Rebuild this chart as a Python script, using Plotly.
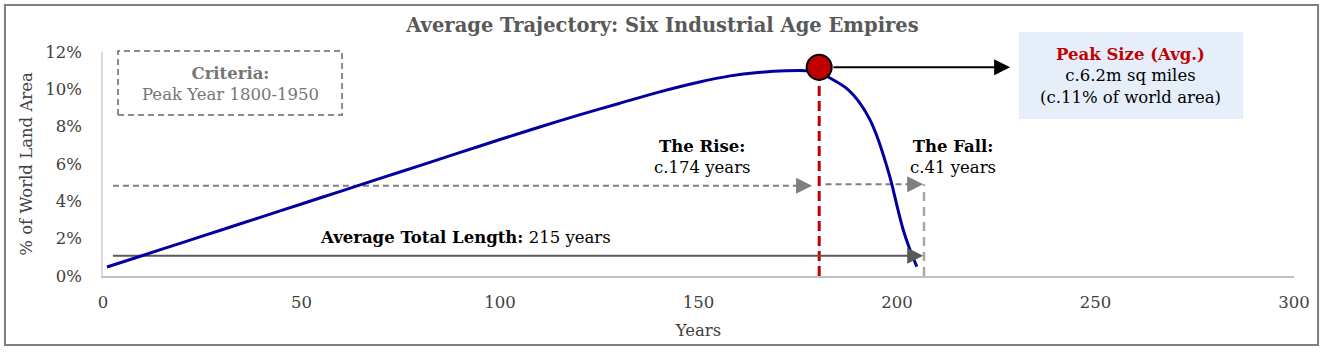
import plotly.graph_objects as go

# ---- data ----
years = [1, 10, 20, 30, 40, 50, 60, 70, 80, 90, 100, 110, 120, 130, 140, 150, 158, 165, 172, 177,
         180, 183, 187.3, 190.7, 193.2, 195.3, 197.4, 198.6, 199.9, 201.6, 203.3, 205]
share = [0.48, 1.10, 1.79, 2.48, 3.17, 3.86, 4.55, 5.24, 5.93, 6.62, 7.31, 7.98, 8.63, 9.24, 9.85, 10.38, 10.72, 10.9, 10.99, 11.0,
         10.95, 10.62, 10.05, 9.25, 8.36, 7.29, 5.9, 5.0, 3.85, 2.45, 1.39, 0.5]

peak_year = 180.4
peak_share = 11.18
rise_start, rise_end = 2.5, 178.6
fall_start, fall_end = 182, 206.6
rise_level = 4.84
fall_level = 4.92
total_start, total_end = 2.5, 206.6
total_level = 1.08
end_year = 206.8
box_arrow_end = 228.5

x_ticks = [0, 50, 100, 150, 200, 250, 300]
y_ticks = [0, 2, 4, 6, 8, 10, 12]
y_tick_text = ["0%", "2%", "4%", "6%", "8%", "10%", "12%"]

FONT = "DejaVu Serif"
RED = "#C00000"
GRAY = "#7F7F7F"
FS = 16.5
HEAD_PX = 14                 # pixel length of the solid shaft used for arrow heads
PX_PER_YEAR = 1191 / 300
head_gap = HEAD_PX / PX_PER_YEAR

fig = go.Figure()

# red dashed peak line
fig.add_trace(go.Scatter(x=[peak_year, peak_year], y=[0, peak_share], mode="lines",
                         line=dict(color=RED, width=3, dash="10px,5px"), hoverinfo="skip"))
# gray dashed end line
fig.add_trace(go.Scatter(x=[end_year, end_year], y=[0, fall_level], mode="lines",
                         line=dict(color="#A6A6A6", width=2.5, dash="9px,6px"), hoverinfo="skip"))
# rise / fall dashed arrows
fig.add_trace(go.Scatter(x=[rise_start, rise_end - head_gap], y=[rise_level, rise_level], mode="lines",
                         line=dict(color=GRAY, width=2, dash="6px,4px"), hoverinfo="skip"))
fig.add_trace(go.Scatter(x=[fall_start, fall_end - head_gap], y=[fall_level, fall_level], mode="lines",
                         line=dict(color=GRAY, width=2, dash="6px,4px"), hoverinfo="skip"))
# total length line
fig.add_trace(go.Scatter(x=[total_start, total_end - head_gap], y=[total_level, total_level], mode="lines",
                         line=dict(color="#595959", width=2), hoverinfo="skip"))

# main curve
fig.add_trace(go.Scatter(x=years, y=share, mode="lines",
                         line=dict(color="#0000A0", width=3, shape="spline", smoothing=0.8),
                         hoverinfo="skip"))
# peak marker
fig.add_trace(go.Scatter(x=[peak_year], y=[peak_share], mode="markers",
                         marker=dict(size=25, color=RED, line=dict(color="black", width=2)),
                         cliponaxis=False, hoverinfo="skip"))

annotations = []
def head(x, y, color):
    annotations.append(dict(x=x, y=y, xref="x", yref="y", ax=-HEAD_PX, ay=0, showarrow=True,
                            arrowhead=2, arrowsize=1.6, arrowwidth=2, arrowcolor=color, text=""))

head(rise_end, rise_level, GRAY)
head(fall_end, fall_level, GRAY)
head(total_end, total_level, "#595959")

# black arrow from peak to box
annotations.append(dict(x=box_arrow_end, y=peak_share, xref="x", yref="y", ax=183.6, ay=peak_share,
                        axref="x", ayref="y", showarrow=True, arrowhead=2, arrowsize=1.6,
                        arrowwidth=2, arrowcolor="black", text=""))

tf = dict(family=FONT, size=FS, color="black")
annotations += [
    dict(x=32, y=10.26, xref="x", yref="y", showarrow=False,
         text="<b>Criteria:</b><br>Peak Year 1800-1950", font=dict(family=FONT, size=FS, color="#767676")),
    dict(x=258.9, y=10.74, xref="x", yref="y", showarrow=False,
         text=f"<b><span style='color:{RED}'>Peak Size (Avg.)</span></b><br>c.6.2m sq miles<br>(c.11% of world area)",
         font=tf),
    dict(x=151.1, y=6.4, xref="x", yref="y", showarrow=False,
         text="<b>The Rise:</b><br>c.174 years", font=tf),
    dict(x=214.1, y=6.4, xref="x", yref="y", showarrow=False,
         text="<b>The Fall:</b><br>c.41 years", font=tf),
    dict(x=91.4, y=2.04, xref="x", yref="y", showarrow=False,
         text="<b>Average Total Length:</b> 215 years", font=tf),
]

shapes = [
    dict(type="rect", xref="paper", yref="paper", x0=-0.0823, x1=1.0202, y0=-0.308, y1=1.2098,
         line=dict(color="#7F7F7F", width=2), layer="below"),
    dict(type="rect", xref="paper", yref="paper", x0=0.0126, x1=0.2007, y0=0.7188, y1=1.0045,
         line=dict(color="#8C8C8C", width=2, dash="6px,4px")),
    dict(type="rect", xref="paper", yref="paper", x0=0.769, x1=0.9572, y0=0.7009, y1=1.0893,
         fillcolor="#E6EFF9", line=dict(width=0), layer="below"),
]

fig.update_layout(
    width=1325, height=352,
    margin=dict(l=103, r=31, t=52, b=76),
    paper_bgcolor="white", plot_bgcolor="white",
    showlegend=False,
    font=dict(family=FONT, color="#404040"),
    title=dict(text="<b>Average Trajectory: Six Industrial Age Empires</b>",
               x=0.5, xanchor="center", y=1 - 25 / 352, yanchor="middle",
               font=dict(family=FONT, size=19.5, color="#595959")),
    annotations=annotations, shapes=shapes,
)
fig.update_xaxes(range=[0, 300], tickvals=x_ticks, showgrid=False, zeroline=False,
                 showline=True, linecolor="#BFBFBF", linewidth=1.5,
                 ticks="outside", ticklen=10, tickcolor="rgba(0,0,0,0)",
                 tickfont=dict(family=FONT, size=FS, color="#404040"),
                 title=dict(text="Years", font=dict(family=FONT, size=FS, color="#404040"), standoff=14))
fig.update_yaxes(range=[0, 12], tickvals=y_ticks, ticktext=y_tick_text, showgrid=False, zeroline=False,
                 showline=True, linecolor="#D9D9D9", linewidth=1.5,
                 ticks="outside", ticklen=16, tickcolor="rgba(0,0,0,0)",
                 tickfont=dict(family=FONT, size=FS, color="#404040"),
                 title=dict(text="% of World Land Area", font=dict(family=FONT, size=FS, color="#404040"), standoff=8))

fig.write_html("out.html", config={"displayModeBar": False},
               post_script="document.body.style.margin='0';")
